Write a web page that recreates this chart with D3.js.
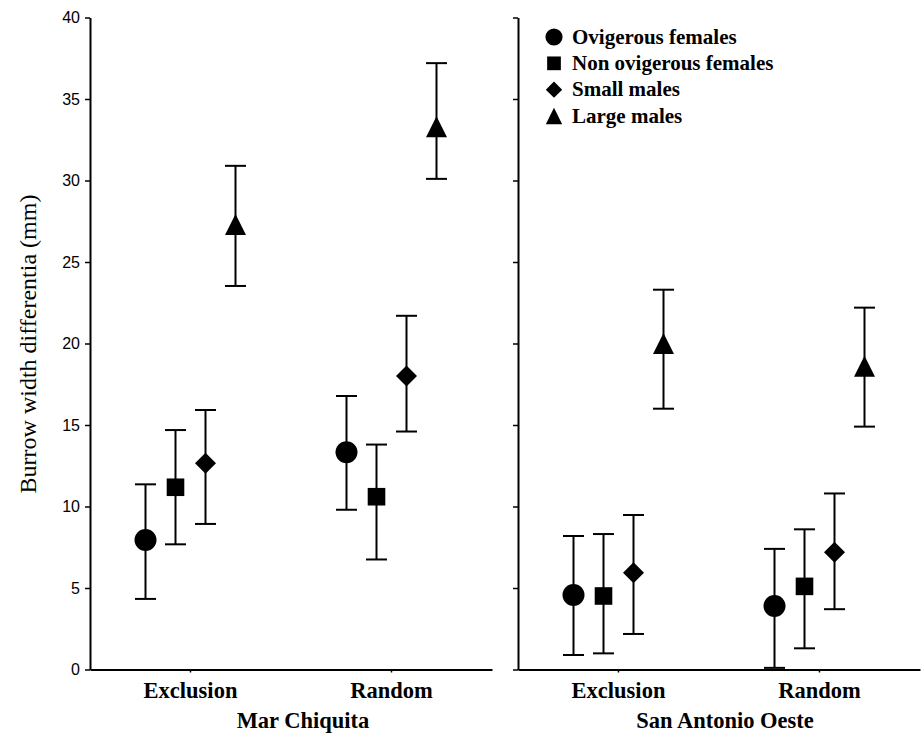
<!DOCTYPE html>
<html>
<head>
<meta charset="utf-8">
<script src="https://cdn.jsdelivr.net/npm/d3@7"></script>
<style>
  html, body { margin: 0; padding: 0; background: #fff; }
  svg { display: block; }
</style>
</head>
<body>
<div id="chart"></div>
<script>
// ---------------- DATA ----------------
const sites = ["Mar Chiquita", "San Antonio Oeste"];
const treatments = ["Exclusion", "Random"];
const groups = ["Ovigerous females", "Non ovigerous females", "Small males", "Large males"];
const yTicks = [0, 5, 10, 15, 20, 25, 30, 35, 40];

// values per treatment (rows) and group (columns)
const meanMarChiquita  = [[7.94, 11.18, 12.65, 27.3], [13.33, 10.6, 18.0, 33.3]];
const upperMarChiquita = [[11.36, 14.69, 15.92, 30.9], [16.78, 13.8, 21.7, 37.2]];
const lowerMarChiquita = [[4.33, 7.68, 8.93, 23.53], [9.8, 6.75, 14.6, 30.1]];

const meanSanAntonio  = [[4.57, 4.51, 5.94, 20.0], [3.9, 5.1, 7.2, 18.6]];
const upperSanAntonio = [[8.19, 8.31, 9.48, 23.3], [7.4, 8.6, 10.8, 22.2]];
const lowerSanAntonio = [[0.89, 0.99, 2.18, 16.0], [0.1, 1.3, 3.7, 14.9]];

const siteMeans = [meanMarChiquita, meanSanAntonio];
const siteUppers = [upperMarChiquita, upperSanAntonio];
const siteLowers = [lowerMarChiquita, lowerSanAntonio];

// ---------------- LAYOUT ----------------
const W = 922, H = 735;
const panelLeft = [90, 518];
const panelWidth = 402;
const yTop = 17.5, yBottom = 669.5;
const serif = "'Liberation Serif', 'Times New Roman', Times, serif";
const sans = "'Liberation Sans', Arial, Helvetica, sans-serif";

const svg = d3.select("#chart").append("svg")
  .attr("width", W).attr("height", H);

const y = d3.scaleLinear().domain([0, 40]).range([yBottom, yTop]);
const x = d3.scaleBand().domain(treatments).range([0, panelWidth]).paddingInner(0).paddingOuter(0);
const offset = d3.scalePoint().domain(groups).range([-45, 45]);

// marker shapes
function markerPath(group, s) {
  const p = d3.path();
  if (group === groups[0]) {
    const r = 11 * s;
    p.moveTo(r, 0); p.arc(0, 0, r, 0, 2 * Math.PI); p.closePath();
  } else if (group === groups[1]) {
    const h = 8.8 * s;
    p.rect(-h, -h, 2 * h, 2 * h);
  } else if (group === groups[2]) {
    const h = 10.5 * s;
    p.moveTo(0, -h); p.lineTo(h, 0); p.lineTo(0, h); p.lineTo(-h, 0); p.closePath();
  } else {
    const w = 10.5 * s, hh = 10.5 * s;
    p.moveTo(0, -hh); p.lineTo(w, hh); p.lineTo(-w, hh); p.closePath();
  }
  return p.toString();
}

sites.forEach((site, si) => {
  const g = svg.append("g").attr("transform", `translate(${panelLeft[si]},0)`);

  // y axis
  const yAxis = d3.axisLeft(y).tickValues(yTicks).tickSize(5).tickSizeOuter(0).tickPadding(5);
  const ya = g.append("g").call(yAxis);
  ya.select(".domain").attr("stroke", "#000").attr("stroke-width", 2);
  ya.selectAll(".tick line").attr("stroke", "#000").attr("stroke-width", 1.5);
  ya.selectAll(".tick text")
    .attr("font-family", sans).attr("font-size", 16).attr("fill", "#000");
  if (si === 1) ya.selectAll(".tick text").remove();

  // x axis
  const xAxis = d3.axisBottom(x).tickSize(3).tickSizeOuter(0).tickPadding(10);
  const xa = g.append("g").attr("transform", `translate(0,${yBottom})`).call(xAxis);
  xa.select(".domain").attr("stroke", "#000").attr("stroke-width", 2);
  xa.selectAll(".tick line").attr("stroke", "#000").attr("stroke-width", 1.5);
  xa.selectAll(".tick text")
    .attr("font-family", serif).attr("font-size", 22.5).attr("font-weight", "bold")
    .attr("fill", "#000");

  // site label
  g.append("text")
    .attr("x", panelWidth / 2 + (si === 0 ? 12 : 6))
    .attr("y", 728)
    .attr("text-anchor", "middle")
    .attr("font-family", serif).attr("font-size", 22.5).attr("font-weight", "bold")
    .text(site);

  // points with error bars
  const rows = [];
  treatments.forEach((t, ti) => {
    groups.forEach((gr, gi) => {
      rows.push({
        t, gr,
        mean: siteMeans[si][ti][gi],
        hi: siteUppers[si][ti][gi],
        lo: siteLowers[si][ti][gi]
      });
    });
  });

  const cx = d => x(d.t) + x.bandwidth() / 2 + offset(d.gr);
  const capW = 10.5;
  const eb = g.append("g").attr("stroke", "#000").attr("stroke-width", 2).attr("fill", "none");
  eb.selectAll("line.v").data(rows).join("line").attr("class", "v")
    .attr("x1", cx).attr("x2", cx)
    .attr("y1", d => y(d.hi)).attr("y2", d => y(d.lo));
  eb.selectAll("line.top").data(rows).join("line").attr("class", "top")
    .attr("x1", d => cx(d) - capW).attr("x2", d => cx(d) + capW)
    .attr("y1", d => y(d.hi)).attr("y2", d => y(d.hi));
  eb.selectAll("line.bot").data(rows).join("line").attr("class", "bot")
    .attr("x1", d => cx(d) - capW).attr("x2", d => cx(d) + capW)
    .attr("y1", d => y(d.lo)).attr("y2", d => y(d.lo));

  g.append("g").selectAll("path").data(rows).join("path")
    .attr("transform", d => `translate(${cx(d)},${y(d.mean)})`)
    .attr("d", d => markerPath(d.gr, 1))
    .attr("fill", "#000");
});

// y axis title
svg.append("text")
  .attr("transform", `translate(28,${344}) rotate(-90)`)
  .attr("text-anchor", "middle")
  .attr("dominant-baseline", "central")
  .attr("font-family", serif).attr("font-size", 24)
  .text("Burrow width differentia (mm)");

// legend
const legendRowY = d3.scalePoint().domain(groups).range([37, 116]);
const lg = svg.append("g");
const item = lg.selectAll("g").data(groups).join("g")
  .attr("transform", d => `translate(554,${legendRowY(d)})`);
item.append("path").attr("d", d => markerPath(d, 0.78)).attr("fill", "#000");
item.append("text")
  .attr("x", 18).attr("y", 6.5)
  .attr("font-family", serif).attr("font-size", 21).attr("font-weight", "bold")
  .text(d => d);
</script>
</body>
</html>
